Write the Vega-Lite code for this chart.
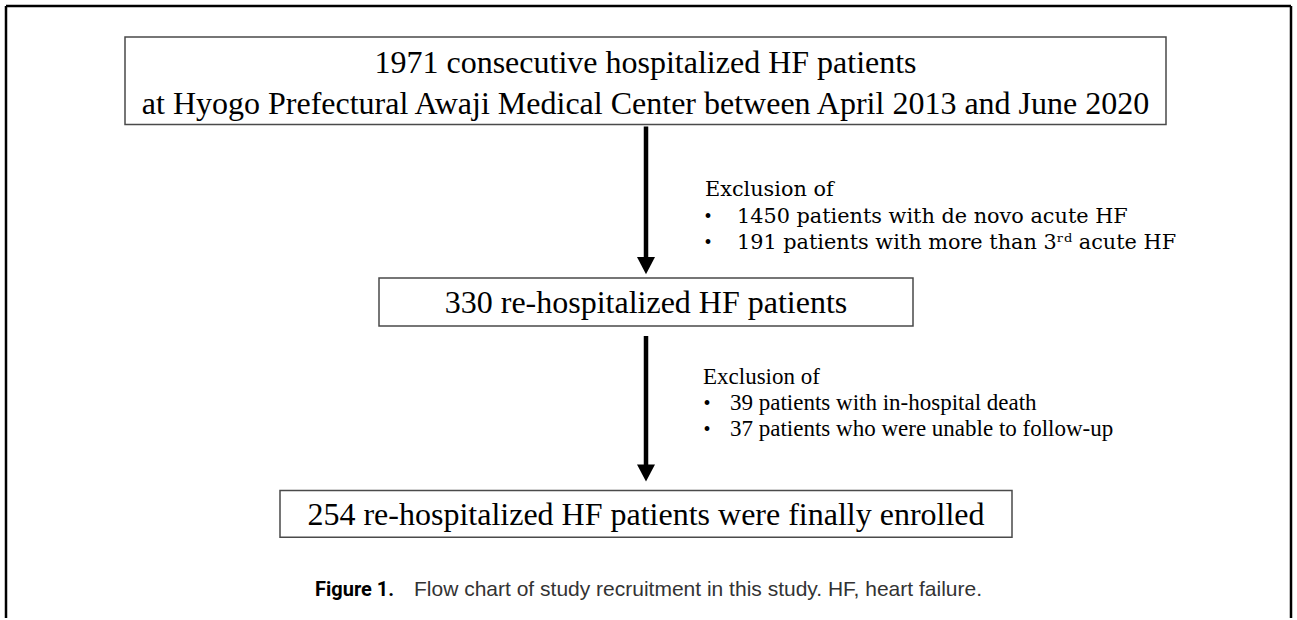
{
  "$schema": "https://vega.github.io/schema/vega-lite/v6.json",
  "width": 1297,
  "height": 620,
  "autosize": {"type": "fit", "contains": "padding"},
  "padding": 0,
  "background": "white",
  "config": {"view": {"stroke": null}},
  "datasets": {
    "frame": [
      {"x": 6, "y": 6, "x2": 6, "y2": 620},
      {"x": 6, "y": 6, "x2": 1291, "y2": 6},
      {"x": 1291, "y": 6, "x2": 1291, "y2": 620}
    ],
    "boxes": [
      {"step": "all", "x": 125, "x2": 1166, "y": 37, "y2": 125},
      {"step": "rehosp", "x": 379, "x2": 913, "y": 279, "y2": 327},
      {"step": "enrolled", "x": 280, "x2": 1012, "y": 492, "y2": 539}
    ],
    "shafts": [
      {"x": 646, "y": 127, "y2": 268},
      {"x": 646, "y": 337, "y2": 476}
    ],
    "heads": [
      {"x": 646, "y": 266.5},
      {"x": 646, "y": 474.5}
    ],
    "boxText": [
      {"x": 645.5, "y": 73, "text": "1971 consecutive hospitalized HF patients"},
      {"x": 645.5, "y": 114, "text": "at Hyogo Prefectural Awaji Medical Center between April 2013 and June 2020"},
      {"x": 646, "y": 314, "text": "330 re-hospitalized HF patients"},
      {"x": 646, "y": 527, "text": "254 re-hospitalized HF patients were finally enrolled"}
    ],
    "excl1": [
      {"x": 705, "y": 197, "text": "Exclusion of"},
      {"x": 737, "y": 223.5, "text": "1450 patients with de novo acute HF"},
      {"x": 737, "y": 250, "text": "191 patients with more than 3ʳᵈ acute HF"}
    ],
    "excl2": [
      {"x": 703, "y": 385, "text": "Exclusion of"},
      {"x": 730, "y": 411, "text": "39 patients with in-hospital death"},
      {"x": 730, "y": 437, "text": "37 patients who were unable to follow-up"}
    ],
    "bullets": [
      {"x": 708, "y": 223.5, "text": "•"},
      {"x": 708, "y": 250, "text": "•"},
      {"x": 707, "y": 411, "text": "•"},
      {"x": 707, "y": 437, "text": "•"}
    ],
    "capLabel": [{"x": 315, "y": 598, "text": "Figure 1."}],
    "capText": [{"x": 414, "y": 598, "text": "Flow chart of study recruitment in this study. HF, heart failure."}]
  },
  "layer": [
    {
      "data": {"name": "frame"},
      "mark": {"type": "rule", "color": "black", "strokeWidth": 2.5},
      "encoding": {
        "x": {"field": "x", "type": "quantitative", "scale": {"domain": [0, 1297], "nice": false, "zero": false}, "axis": null},
        "y": {"field": "y", "type": "quantitative", "scale": {"domain": [0, 620], "nice": false, "zero": false, "reverse": true}, "axis": null},
        "x2": {"field": "x2"},
        "y2": {"field": "y2"}
      }
    },
    {
      "data": {"name": "boxes"},
      "mark": {"type": "rect", "fill": "white", "stroke": "#4a4a4a", "strokeWidth": 1.5},
      "encoding": {
        "x": {"field": "x", "type": "quantitative", "axis": null},
        "x2": {"field": "x2"},
        "y": {"field": "y", "type": "quantitative", "axis": null},
        "y2": {"field": "y2"}
      }
    },
    {
      "data": {"name": "shafts"},
      "mark": {"type": "rule", "color": "black", "strokeWidth": 4.5},
      "encoding": {
        "x": {"field": "x", "type": "quantitative", "axis": null},
        "y": {"field": "y", "type": "quantitative", "axis": null},
        "y2": {"field": "y2"}
      }
    },
    {
      "data": {"name": "heads"},
      "mark": {"type": "point", "shape": "M-1,-0.95L1,-0.95L0,0.95Z", "filled": true, "color": "black", "opacity": 1, "size": 324},
      "encoding": {
        "x": {"field": "x", "type": "quantitative", "axis": null},
        "y": {"field": "y", "type": "quantitative", "axis": null}
      }
    },
    {
      "data": {"name": "boxText"},
      "mark": {"type": "text", "font": "Liberation Serif", "fontSize": 32, "align": "center", "baseline": "alphabetic", "color": "black"},
      "encoding": {
        "x": {"field": "x", "type": "quantitative", "axis": null},
        "y": {"field": "y", "type": "quantitative", "axis": null},
        "text": {"field": "text"}
      }
    },
    {
      "data": {"name": "excl1"},
      "mark": {"type": "text", "font": "DejaVu Serif", "fontSize": 20.8, "align": "left", "baseline": "alphabetic", "color": "black"},
      "encoding": {
        "x": {"field": "x", "type": "quantitative", "axis": null},
        "y": {"field": "y", "type": "quantitative", "axis": null},
        "text": {"field": "text"}
      }
    },
    {
      "data": {"name": "excl2"},
      "mark": {"type": "text", "font": "Liberation Serif", "fontSize": 23, "align": "left", "baseline": "alphabetic", "color": "black"},
      "encoding": {
        "x": {"field": "x", "type": "quantitative", "axis": null},
        "y": {"field": "y", "type": "quantitative", "axis": null},
        "text": {"field": "text"}
      }
    },
    {
      "data": {"name": "bullets"},
      "mark": {"type": "text", "font": "Liberation Serif", "fontSize": 20, "align": "center", "baseline": "alphabetic", "color": "black"},
      "encoding": {
        "x": {"field": "x", "type": "quantitative", "axis": null},
        "y": {"field": "y", "type": "quantitative", "axis": null},
        "text": {"field": "text"}
      }
    },
    {
      "data": {"name": "capLabel"},
      "mark": {"type": "text", "font": "Roboto", "fontWeight": "bold", "fontSize": 20, "align": "left", "baseline": "alphabetic", "color": "black"},
      "encoding": {
        "x": {"field": "x", "type": "quantitative", "axis": null},
        "y": {"field": "y", "type": "quantitative", "axis": null},
        "text": {"field": "text"}
      }
    },
    {
      "data": {"name": "capText"},
      "mark": {"type": "text", "font": "Liberation Sans", "fontSize": 21, "align": "left", "baseline": "alphabetic", "color": "#333333"},
      "encoding": {
        "x": {"field": "x", "type": "quantitative", "axis": null},
        "y": {"field": "y", "type": "quantitative", "axis": null},
        "text": {"field": "text"}
      }
    }
  ]
}
